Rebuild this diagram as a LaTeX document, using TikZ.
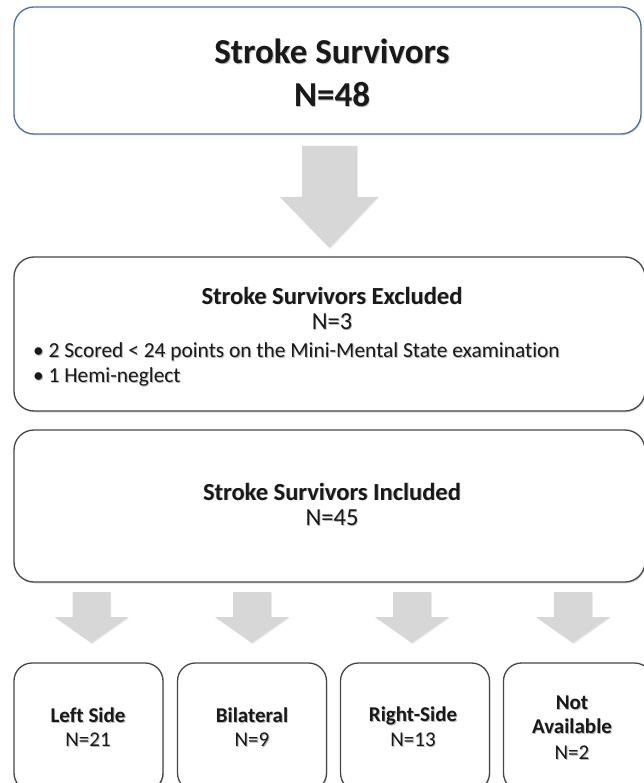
\documentclass[tikz,border=0pt]{standalone}
\usepackage{fontspec}
\setmainfont{Carlito}[Ligatures=NoCommon]
\usetikzlibrary{shadows}
\definecolor{arrowgray}{RGB}{215,215,215}
\definecolor{topblue}{RGB}{80,110,160}
\definecolor{boxgray}{RGB}{70,70,70}
\tikzset{
  bigbox/.style={draw=boxgray, line width=1.3pt, rounded corners=20pt, fill=white,
    drop shadow={shadow xshift=1pt, shadow yshift=-1.5pt, opacity=0.25}},
  smallbox/.style={bigbox, rounded corners=18pt, minimum width=149pt, minimum height=128pt},
  garrow/.style={fill=arrowgray, draw=none,
    drop shadow={shadow xshift=0.8pt, shadow yshift=-1pt, opacity=0.15}},
  txt/.style={align=center, inner sep=0pt, text=black!90},
}
\newcommand{\shd}[1]{\makebox[0pt][l]{\hspace{0.9pt}\raisebox{-0.9pt}{\color{black!28}#1}}#1}
\begin{document}
\begin{tikzpicture}[x=1pt,y=-1pt]
\useasboundingbox (0,0) rectangle (643,783);
% boxes
\node[bigbox, draw=topblue, minimum width=627pt, minimum height=127pt] (top) at (327.5,70.5) {};
\node[bigbox, minimum width=631pt, minimum height=154pt] (exc) at (329.5,334) {};
\node[bigbox, minimum width=631pt, minimum height=152pt] (inc) at (329.5,506) {};
\node[smallbox] (b1) at (88.5,727) {};
\node[smallbox] (b2) at (252,727) {};
\node[smallbox] (b3) at (415,727) {};
\node[smallbox] (b4) at (578,727) {};
% texts
\node[txt, font=\fontsize{35}{38}\selectfont\bfseries] (t1) at (332,52) {\shd{Stroke Survivors}};
\node[txt, font=\fontsize{35}{38}\selectfont\bfseries] (t2) at (332,95) {\shd{N=48}};
\node[txt, font=\fontsize{24.5}{28}\selectfont\bfseries] (e1) at (332,296) {\shd{Stroke Survivors Excluded}};
\node[txt, font=\fontsize{24.5}{28}\selectfont] (e2) at (332,322) {\shd{N=3}};
\node[txt, font=\fontsize{21.4}{24}\selectfont, anchor=west] (e3) at (33,352) {\shd{• 2 Scored < 24 points on the Mini-Mental State examination}};
\node[txt, font=\fontsize{21.4}{24}\selectfont, anchor=west] (e4) at (33,377) {\shd{• 1 Hemi-neglect}};
\node[txt, font=\fontsize{24.5}{28}\selectfont\bfseries] (i1) at (332,492) {\shd{Stroke Survivors Included}};
\node[txt, font=\fontsize{24.5}{28}\selectfont] (i2) at (332,518) {\shd{N=45}};
\tikzset{sb/.style={txt, font=\fontsize{21}{24}\selectfont\bfseries}, sn/.style={txt, font=\fontsize{21}{24}\selectfont}}
\node[sb] (l1) at (88,716) {\shd{Left Side}};
\node[sn] (l2) at (88,740) {\shd{N=21}};
\node[sb] (m1) at (252,716) {\shd{Bilateral}};
\node[sn] (m2) at (252,740) {\shd{N=9}};
\node[sb] (r1) at (413,716) {\shd{Right-Side}};
\node[sn] (r2) at (413,740) {\shd{N=13}};
\node[sb] (n1) at (572,703) {\shd{Not}};
\node[sb] (n2) at (572,727) {\shd{Available}};
\node[sn] (n3) at (572,753) {\shd{N=2}};
% arrows
\path[garrow] (302,146) -- (357,146) -- (357,197) -- (378,197) -- (329.5,248) -- (280,197) -- (302,197) -- cycle;
\foreach \c in {91.5,252,412,573}{
  \path[garrow] (\c-19,592) -- (\c+19,592) -- (\c+19,617) -- (\c+37,617) -- (\c,643) -- (\c-37,617) -- (\c-19,617) -- cycle;
}
\end{tikzpicture}
\end{document}
